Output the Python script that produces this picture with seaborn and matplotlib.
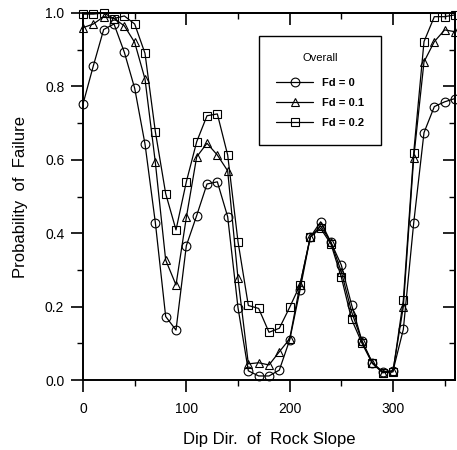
import numpy as np
import pandas as pd
import matplotlib
matplotlib.use("Agg")
import matplotlib.pyplot as plt
import seaborn as sns

# ---- data ----
dip_dir = [0, 10, 20, 30, 40, 50, 60, 70, 80, 90, 100, 110, 120, 130, 140, 150, 160, 170,
           180, 190, 200, 210, 220, 230, 240, 250, 260, 270, 280, 290, 300, 310, 320, 330,
           340, 350, 360]
pf_fd0 = [0.752, 0.856, 0.955, 0.970, 0.893, 0.795, 0.643, 0.429, 0.173, 0.136, 0.366,
          0.448, 0.534, 0.540, 0.445, 0.197, 0.025, 0.011, 0.011, 0.027, 0.109, 0.245,
          0.390, 0.431, 0.375, 0.313, 0.204, 0.106, 0.047, 0.023, 0.025, 0.138, 0.427,
          0.674, 0.745, 0.758, 0.767]
pf_fd01 = [0.960, 0.970, 0.990, 0.985, 0.965, 0.920, 0.820, 0.593, 0.327, 0.259, 0.443,
           0.608, 0.645, 0.613, 0.570, 0.277, 0.044, 0.047, 0.041, 0.077, 0.112, 0.259,
           0.390, 0.420, 0.375, 0.295, 0.185, 0.106, 0.047, 0.020, 0.025, 0.200, 0.604,
           0.867, 0.922, 0.954, 0.949]
pf_fd02 = [0.997, 0.997, 1.000, 0.985, 0.992, 0.970, 0.890, 0.677, 0.508, 0.409, 0.540,
           0.649, 0.720, 0.725, 0.613, 0.377, 0.203, 0.195, 0.130, 0.141, 0.198, 0.259,
           0.390, 0.413, 0.370, 0.280, 0.165, 0.100, 0.045, 0.020, 0.022, 0.218, 0.618,
           0.922, 0.990, 0.990, 0.995]
series_labels = ["Fd = 0", "Fd = 0.1", "Fd = 0.2"]
legend_title = "Overall"
x_label = "Dip Dir.  of  Rock Slope"
y_label = "Probability  of  Failure"
x_ticks = [0, 100, 200, 300]
y_ticks = [0.0, 0.2, 0.4, 0.6, 0.8, 1.0]

frames = []
for lab, vals in zip(series_labels, [pf_fd0, pf_fd01, pf_fd02]):
    frames.append(pd.DataFrame({"dip": dip_dir, "pf": vals, "series": lab}))
df = pd.concat(frames, ignore_index=True)

sns.set_style("white")
plt.rcParams["font.family"] = ["Liberation Sans", "DejaVu Sans"]
plt.rcParams["axes.linewidth"] = 1.4
plt.rcParams["text.color"] = "black"
plt.rcParams["axes.labelcolor"] = "black"
plt.rcParams["xtick.color"] = "black"
plt.rcParams["ytick.color"] = "black"

fig = plt.figure(figsize=(4.57, 4.50), dpi=100)
ax = fig.add_axes([83 / 457, 1 - 380 / 450, (455 - 83) / 457, (380 - 13) / 450])

sns.lineplot(data=df, x="dip", y="pf", hue="series", style="series",
             palette=["black"] * 3, markers=["o", "^", "s"], dashes=False,
             markersize=6.3, markerfacecolor="none", markeredgecolor="black",
             markeredgewidth=0.8, linewidth=0.9, legend=False, ax=ax, clip_on=False)

ax.set_xlim(0, 360)
ax.set_ylim(0, 1.0)
ax.set_xticks(x_ticks)
ax.set_xticks([50, 150, 250, 350], minor=True)
ax.set_yticks(y_ticks)
ax.set_yticks([0.1, 0.3, 0.5, 0.7, 0.9], minor=True)
ax.set_yticklabels([f"{v:.1f}" for v in y_ticks])
ax.tick_params(which="major", direction="out", length=8.5, width=1.2,
               labelsize=10, colors="black", pad=5)
ax.tick_params(which="minor", direction="out", length=4.5, width=1.0, colors="black")
ax.tick_params(axis="x", which="major", pad=7)
ax.tick_params(left=True, bottom=True, which="both")

for s in ax.spines.values():
    s.set_color("black")
    s.set_linewidth(1.4)

# mirrored inward ticks on the top and right
secx = ax.secondary_xaxis("top")
secx.set_xticks(x_ticks)
secx.set_xticks([50, 150, 250, 350], minor=True)
secx.tick_params(which="major", direction="in", length=8.5, width=1.2, labeltop=False)
secx.tick_params(which="minor", direction="in", length=4.5, width=1.0)
secy = ax.secondary_yaxis("right")
secy.set_yticks(y_ticks)
secy.set_yticks([0.1, 0.3, 0.5, 0.7, 0.9], minor=True)
secy.tick_params(which="major", direction="in", length=8.5, width=1.2, labelright=False)
secy.tick_params(which="minor", direction="in", length=4.5, width=1.0)

ax.set_xlabel(x_label, fontsize=12, labelpad=12)
ax.set_ylabel(y_label, fontsize=12, labelpad=12)

handles = ax.get_lines()[:3]
leg = ax.legend(handles, series_labels, title=legend_title, loc="upper left",
                bbox_to_anchor=(0.473, 0.937), fontsize=8, title_fontsize=8,
                frameon=True, fancybox=False, edgecolor="black", framealpha=1,
                handlelength=3.4, labelspacing=0.9, borderpad=1.5, handletextpad=0.8,
                borderaxespad=0)
leg._legend_box.sep = 0.9 * 8 + 4
leg.get_frame().set_linewidth(1.0)
for t in leg.get_texts():
    t.set_fontweight("bold")

fig.savefig("out.png", dpi=100)
